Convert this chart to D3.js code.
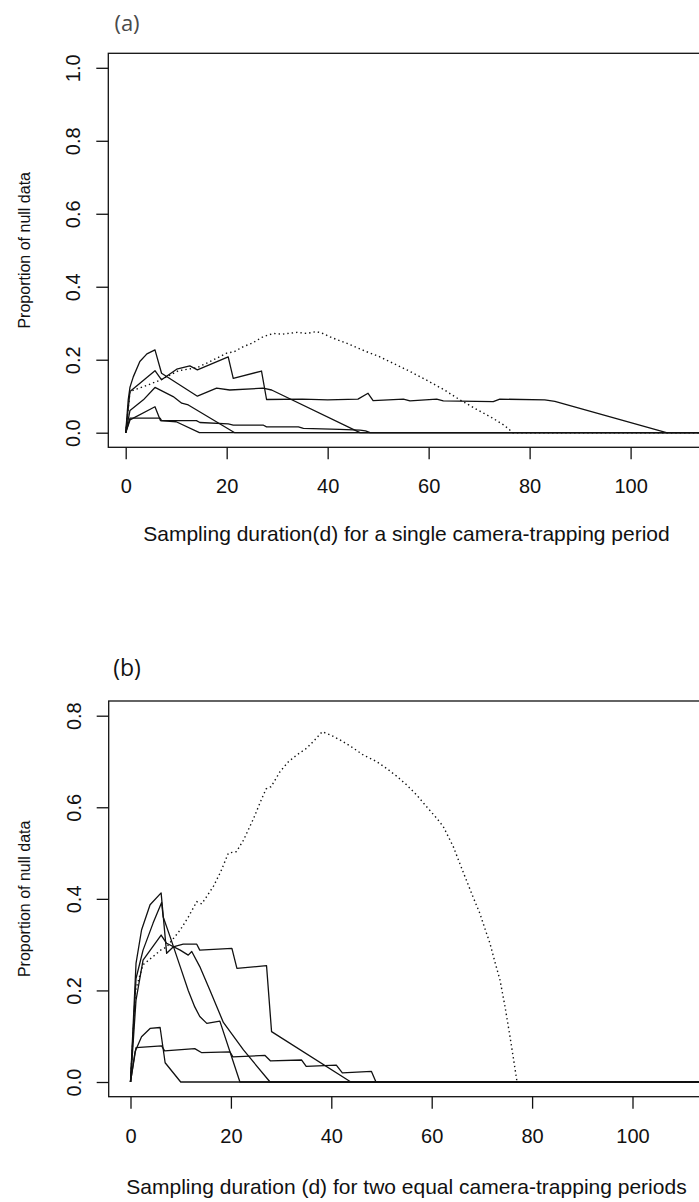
<!DOCTYPE html>
<html>
<head>
<meta charset="utf-8">
<script src="https://cdn.jsdelivr.net/npm/d3@7/dist/d3.min.js"></script>
<style>
  html, body { margin: 0; padding: 0; background: #fff; }
  svg { display: block; }
  text { font-family: "Liberation Sans", Arial, sans-serif; fill: #111; }
</style>
</head>
<body>
<svg id="chart" width="699" height="1202"></svg>
<script>
// ---- tick labels ----
const xTicks = [0, 20, 40, 60, 80, 100];
const yTicksA = [0.0, 0.2, 0.4, 0.6, 0.8, 1.0];
const yTicksB = [0.0, 0.2, 0.4, 0.6, 0.8];

// ---- (a) single camera-trapping period: [days, proportion of null data] ----
const a1 = [[0,0],[0.5,0.09],[0.85,0.125],[1.5,0.153],[2.8,0.195],[4.2,0.216],[5.8,0.227],[7.1,0.163],[14.2,0.1],[18,0.122],[20.6,0.117],[27.2,0.122],[28.9,0.117],[46.4,0],[116,0]];
const a2 = [[0,0],[0.85,0.113],[5.8,0.17],[7.1,0.145],[10.1,0.174],[12.7,0.183],[14.2,0.172],[20.3,0.208],[21.3,0.149],[26.9,0.169],[27.9,0.091],[35,0.092],[40,0.09],[46,0.092],[48,0.108],[49,0.088],[55,0.092],[56.3,0.087],[61.6,0.092],[62.9,0.087],[72.8,0.085],[74.1,0.092],[83,0.09],[85,0.086],[107.1,0],[116,0]];
const a3 = [[0,0],[0.85,0.061],[3.5,0.09],[5.8,0.124],[9.4,0.099],[11.1,0.081],[12.4,0.076],[21.6,0],[116,0]];
const a4 = [[0,0],[0.85,0.035],[5.8,0.071],[6.9,0.033],[10,0.03],[14.6,0],[116,0]];
const a5 = [[0,0],[0.85,0.04],[6.8,0.04],[7.1,0.033],[14,0.033],[14.7,0.028],[20.3,0.024],[21.3,0.021],[27.2,0.021],[27.9,0.016],[34.2,0.016],[35.2,0.012],[42.4,0.009],[46.4,0.007],[47.5,0.005],[48.4,0],[116,0]];
const aDotted = [[0,0],[0.85,0.113],[3.5,0.126],[6.8,0.144],[10.5,0.17],[14.1,0.178],[16.7,0.195],[20,0.218],[21.5,0.222],[23.3,0.236],[25,0.245],[27.2,0.263],[29.2,0.272],[31,0.27],[33.9,0.275],[35.8,0.272],[37.8,0.277],[39,0.272],[41.1,0.259],[44,0.244],[47.7,0.222],[50,0.21],[53,0.19],[56,0.17],[59.6,0.144],[63,0.118],[66.2,0.09],[69.5,0.064],[72.8,0.039],[75,0.02],[76.7,0],[116,0]];

// ---- (b) two equal camera-trapping periods ----
const b1 = [[0,0],[1.1,0.259],[2.2,0.332],[3.9,0.387],[6.1,0.413],[7.2,0.281],[8.5,0.295],[10.5,0.301],[13.2,0.301],[13.8,0.288],[20.2,0.292],[21.2,0.248],[27.1,0.254],[28.1,0.11],[43.9,0],[116,0]];
const b2 = [[0,0],[1.1,0.226],[2.5,0.288],[4.5,0.347],[6.2,0.392],[6.5,0.361],[7.9,0.317],[9.9,0.252],[11.5,0.2],[12.8,0.164],[13.8,0.143],[15.2,0.128],[17.8,0.133],[21.8,0],[116,0]];
const b3 = [[0,0],[1.1,0.179],[2.5,0.266],[6.1,0.321],[7.2,0.303],[9.9,0.288],[11.5,0.277],[12.2,0.285],[13.8,0.252],[15.8,0.201],[18.5,0.13],[22.5,0.07],[27.8,0],[116,0]];
const b4 = [[0,0],[0.9,0.066],[2.2,0.099],[3.9,0.117],[5.9,0.119],[6.9,0.042],[10,0],[116,0]];
const b5 = [[0,0],[1.1,0.075],[6.2,0.079],[6.8,0.068],[12.8,0.073],[14.2,0.064],[19.8,0.066],[20.4,0.055],[26.8,0.058],[27.9,0.046],[34.1,0.048],[35,0.034],[41,0.037],[42.2,0.02],[48,0.023],[48.9,0],[116,0]];
const bDotted = [[0,0],[1,0.2],[2.5,0.256],[4.5,0.274],[6,0.288],[7.2,0.295],[9.9,0.332],[11.5,0.36],[13.2,0.394],[14.2,0.389],[16.5,0.427],[18,0.46],[19.5,0.5],[21.1,0.503],[22.5,0.528],[24.5,0.575],[26,0.615],[27,0.64],[28,0.645],[29.8,0.678],[31.5,0.7],[33.1,0.714],[35.1,0.729],[36.7,0.747],[38.2,0.765],[40,0.757],[42.1,0.745],[44,0.732],[46.4,0.714],[49,0.7],[51,0.685],[53,0.668],[55,0.649],[57,0.627],[59,0.601],[61,0.576],[62.3,0.558],[64.3,0.514],[65.5,0.48],[66.9,0.441],[68.2,0.405],[69.6,0.368],[70.6,0.335],[71.6,0.303],[72.6,0.262],[73.6,0.223],[74.6,0.165],[75.6,0.099],[76.3,0.05],[77,0],[116,0]];

const panels = [
  {
    id: "a", tag: "(a)", tagColor: "#4a4a4a", tagSize: 22, tagY: 23,
    box: { x0: 108.3, x1: 705, y0: 53.3, y1: 447.3 },
    x: d3.scaleLinear().domain([0, 100]).range([125.7, 630.6]),
    y: d3.scaleLinear().domain([0, 1]).range([432.7, 67.8]),
    yTicks: yTicksA,
    solid: [a1, a2, a3, a4, a5], dotted: aDotted,
    xTitle: "Sampling duration(d) for a single camera-trapping period",
    xTitleY: 541
  },
  {
    id: "b", tag: "(b)", tagColor: "#111", tagSize: 23, tagY: 668,
    box: { x0: 108.7, x1: 705, y0: 701, y1: 1096.7 },
    x: d3.scaleLinear().domain([0, 100]).range([130.5, 632.5]),
    y: d3.scaleLinear().domain([0, 0.8]).range([1082, 715.7]),
    yTicks: yTicksB,
    solid: [b1, b2, b3, b4, b5], dotted: bDotted,
    xTitle: "Sampling duration (d) for two equal camera-trapping periods",
    xTitleY: 1194
  }
];

const svg = d3.select("#chart");

panels.forEach(p => {
  const g = svg.append("g");
  const b = p.box;

  // clip region = plotting box
  svg.append("defs").append("clipPath").attr("id", "clip-" + p.id)
    .append("rect").attr("x", b.x0).attr("y", b.y0)
    .attr("width", b.x1 - b.x0).attr("height", b.y1 - b.y0);

  const line = d3.line().x(d => p.x(d[0])).y(d => p.y(d[1]));
  const lines = g.append("g").attr("clip-path", `url(#clip-${p.id})`);

  lines.selectAll("path.solid").data(p.solid).join("path")
    .attr("class", "solid")
    .attr("d", line)
    .attr("fill", "none")
    .attr("stroke", "#111")
    .attr("stroke-width", 1.3)
    .attr("stroke-linejoin", "round");

  lines.append("path")
    .attr("d", line(p.dotted))
    .attr("fill", "none")
    .attr("stroke", "#111")
    .attr("stroke-width", 1.4)
    .attr("stroke-dasharray", "1.4,3");

  // frame
  g.append("rect")
    .attr("x", b.x0).attr("y", b.y0)
    .attr("width", b.x1 - b.x0).attr("height", b.y1 - b.y0)
    .attr("fill", "none").attr("stroke", "#111").attr("stroke-width", 1.3);

  // x axis
  const xa = g.append("g").attr("transform", `translate(0,${b.y1})`)
    .call(d3.axisBottom(p.x).tickValues(xTicks).tickFormat(d3.format("d"))
      .tickSize(12).tickPadding(20));
  xa.select(".domain").remove();
  xa.selectAll("line").attr("stroke", "#111").attr("stroke-width", 1.3);
  xa.selectAll("text").attr("font-size", 20).attr("fill", "#111")
    .style("font-family", '"Liberation Sans", Arial, sans-serif');

  // y axis with rotated labels
  const ya = g.append("g").attr("transform", `translate(${b.x0},0)`)
    .call(d3.axisLeft(p.y).tickValues(p.yTicks).tickFormat(d3.format(".1f")).tickSize(12));
  ya.select(".domain").remove();
  ya.selectAll("line").attr("stroke", "#111").attr("stroke-width", 1.3);
  ya.selectAll("text")
    .attr("x", null).attr("dy", null)
    .attr("text-anchor", "middle")
    .attr("transform", "translate(-28,0) rotate(-90)")
    .attr("font-size", 20).attr("fill", "#111")
    .style("font-family", '"Liberation Sans", Arial, sans-serif');

  // axis titles
  g.append("text")
    .attr("x", 406.5).attr("y", p.xTitleY)
    .attr("text-anchor", "middle")
    .attr("font-size", 21)
    .text(p.xTitle);

  g.append("text")
    .attr("transform", `translate(30,${(b.y0 + b.y1) / 2}) rotate(-90)`)
    .attr("text-anchor", "middle")
    .attr("font-size", 16)
    .text("Proportion of null data");

  // panel tag
  g.append("text")
    .attr("x", 127).attr("y", p.tagY)
    .attr("dy", "0.35em")
    .attr("text-anchor", "middle")
    .attr("font-size", p.tagSize)
    .style("font-family", '"Open Sans", Lato, sans-serif')
    .style("fill", p.tagColor)
    .text(p.tag);
});
</script>
</body>
</html>
